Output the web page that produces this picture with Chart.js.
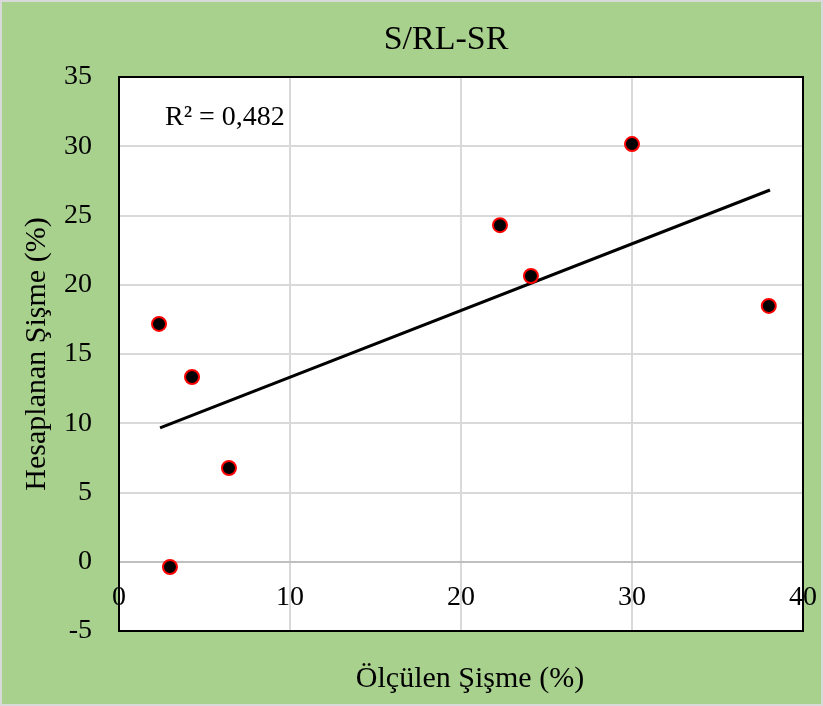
<!DOCTYPE html>
<html>
<head>
<meta charset="utf-8">
<script src="https://cdn.jsdelivr.net/npm/chart.js@4/dist/chart.umd.min.js"></script>
<style>
  html, body { margin: 0; padding: 0; background: #ffffff; }
  #wrap { width: 823px; height: 706px; }
</style>
</head>
<body>
<div id="wrap"><canvas id="swellChart" width="823" height="706"></canvas></div>
<script>
// measured vs calculated swell (%)
const measured = [2.34, 4.27, 6.43, 2.98, 22.28, 24.09, 30.0, 38.0];
const calculated = [17.17, 13.34, 6.77, -0.38, 24.3, 20.63, 30.16, 18.47];
// linear trendline end points
const trendX = [2.4, 38.07];
const trendY = [9.66, 26.84];
const xTicks = [0, 10, 20, 30, 40];
const yTicks = [-5, 0, 5, 10, 15, 20, 25, 30, 35];
const chartTitle = 'S/RL-SR';
const xTitle = 'Ölçülen Şişme (%)';
const rSquared = 'R² = 0,482';

const serif = "'Liberation Serif', 'Times New Roman', serif";

// green backdrop, plot frame, titles and the R² label
const decor = {
    id: 'decor',
    beforeDraw(chart) {
        const c = chart.ctx;
        c.save();
        c.fillStyle = '#a9d18e';
        c.fillRect(0, 0, chart.width, chart.height);
        c.strokeStyle = '#d9d9d9';
        c.lineWidth = 2;
        c.strokeRect(1, 1, chart.width - 2, chart.height - 2);
        const a = chart.chartArea;
        c.fillStyle = '#ffffff';
        c.fillRect(a.left, a.top, a.right - a.left, a.bottom - a.top);
        c.restore();
    },
    afterDatasetsDraw(chart) {
        const c = chart.ctx;
        const a = chart.chartArea;
        c.save();
        c.strokeStyle = '#000000';
        c.lineWidth = 2;
        c.strokeRect(a.left, a.top, a.right - a.left, a.bottom - a.top);
        c.fillStyle = '#000000';
        c.textBaseline = 'middle';
        c.font = '28px ' + serif;
        c.fillText(rSquared, a.left + 46, a.top + 41);
        c.textAlign = 'center';
        c.font = '34px ' + serif;
        c.fillText(chartTitle, 446, 40);
        c.font = '30px ' + serif;
        c.fillText(xTitle, 470, 679);
        c.restore();
    }
};

function createChart() {
    const ctx = document.getElementById('swellChart').getContext('2d');
    const points = measured.map((x, i) => ({ x: x, y: calculated[i] }));
    const trend = trendX.map((x, i) => ({ x: x, y: trendY[i] }));

    new Chart(ctx, {
        type: 'scatter',
        data: {
            datasets: [{
                data: trend,
                showLine: true,
                borderColor: '#000000',
                borderWidth: 3,
                pointRadius: 0,
                order: 2
            }, {
                data: points,
                backgroundColor: '#000000',
                borderColor: '#ff0000',
                borderWidth: 2,
                pointRadius: 7,
                order: 1
            }]
        },
        options: {
            responsive: false,
            animation: false,
            layout: { padding: { left: 0, right: 20, top: 77, bottom: 75 } },
            plugins: {
                legend: { display: false },
                tooltip: { enabled: false },
                title: { display: false }
            },
            scales: {
                x: {
                    type: 'linear',
                    position: { y: 0 },
                    min: 0,
                    max: 40,
                    afterBuildTicks: s => { s.ticks = xTicks.map(v => ({ value: v })); },
                    afterFit: s => { s.paddingLeft = 0; s.paddingRight = 0; },
                    grid: { color: '#d9d9d9', lineWidth: 2, drawTicks: false },
                    border: { display: true, color: '#bfbfbf', width: 2 },
                    ticks: {
                        color: '#000000',
                        padding: 19,
                        maxRotation: 0,
                        font: { family: serif, size: 28 }
                    }
                },
                y: {
                    min: -5,
                    max: 35,
                    afterBuildTicks: s => { s.ticks = yTicks.map(v => ({ value: v })); },
                    afterFit: s => { s.width = 119; s.paddingTop = 0; s.paddingBottom = 0; },
                    grid: { color: '#d9d9d9', lineWidth: 2, drawTicks: false },
                    border: { display: false },
                    title: {
                        display: true,
                        text: 'Hesaplanan Şişme (%)',
                        color: '#000000',
                        font: { family: serif, size: 30 },
                        padding: { top: 19, bottom: 0 }
                    },
                    ticks: {
                        color: '#000000',
                        padding: 27,
                        font: { family: serif, size: 28 }
                    }
                }
            }
        },
        plugins: [decor]
    });
}

window.onload = function() {
    createChart();
};
</script>
</body>
</html>
